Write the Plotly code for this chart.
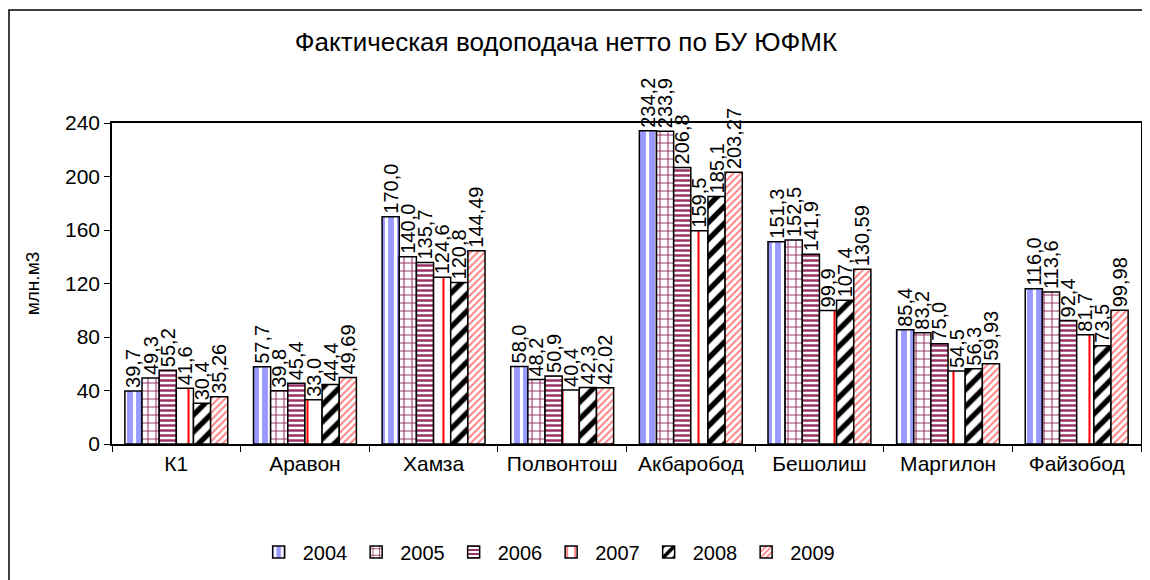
import plotly.graph_objects as go

categories = ["К1", "Аравон", "Хамза", "Полвонтош", "Акбаробод", "Бешолиш", "Маргилон", "Файзобод"]
years = ["2004", "2005", "2006", "2007", "2008", "2009"]

v2004 = [39.7, 57.7, 170.0, 58.0, 234.2, 151.3, 85.4, 116.0]
v2005 = [49.3, 39.8, 140.0, 48.2, 233.9, 152.5, 83.2, 113.6]
v2006 = [55.2, 45.4, 135.7, 50.9, 206.8, 141.9, 75.0, 92.4]
v2007 = [41.6, 33.0, 124.6, 40.4, 159.5, 99.9, 54.5, 81.7]
v2008 = [30.4, 44.4, 120.8, 42.3, 185.1, 107.4, 56.3, 73.5]
v2009 = [35.26, 49.69, 144.49, 42.02, 203.27, 130.59, 59.93, 99.98]

series = [v2004, v2005, v2006, v2007, v2008, v2009]
decimals = [1, 1, 1, 1, 1, 2]

patterns = [
    dict(shape="|", fgcolor="#FFFFFF", bgcolor="#9999FF", size=9, solidity=0.35),
    dict(shape="+", fgcolor="#993366", bgcolor="#FFFFFF", size=8, solidity=0.25),
    dict(shape="-", fgcolor="#993366", bgcolor="#FFFFFF", size=5, solidity=0.5),
    dict(shape="|", fgcolor="#FF0000", bgcolor="#FFFFFF", size=17, solidity=0.12),
    dict(shape="/", fgcolor="#000000", bgcolor="#FFFFFF", size=12, solidity=0.45),
    dict(shape="/", fgcolor="#FF8080", bgcolor="#FFFFFF", size=5, solidity=0.4),
]

FONT = "Liberation Sans, Arial, sans-serif"

# page body has an 8px margin; plot area target: x 112..1143, y 123..444
W, H = 1142, 572
L, T, R, B = 104, 115, 7, 136
PW, PH = W - L - R, H - T - B

fig = go.Figure()
for name, vals, dec, pat in zip(years, series, decimals, patterns):
    labels = [f"{v:.{dec}f}".replace(".", ",") for v in vals]
    fig.add_trace(go.Bar(
        name=name, x=categories, y=vals,
        text=labels, textposition="outside", textangle=-90,
        textfont=dict(family=FONT, size=20, color="black"),
        constraintext="none", cliponaxis=False,
        marker=dict(pattern=dict(fillmode="replace", **pat),
                    line=dict(color="black", width=1.5)),
    ))

fig.update_layout(
    width=W, height=H,
    margin=dict(l=L, r=R, t=T, b=B),
    paper_bgcolor="white", plot_bgcolor="white",
    font=dict(family=FONT, size=20, color="black"),
    barmode="group", bargap=0.2, bargroupgap=0,
    title=dict(text="Фактическая водоподача нетто по БУ ЮФМК",
               x=(566 - 8) / W, xanchor="center", y=1 - 34 / H, yanchor="middle",
               font=dict(size=26)),
    showlegend=True,
    legend=dict(orientation="h", x=(548 - 112) / PW, xanchor="center",
                y=-(552 - 444) / PH, yanchor="middle",
                font=dict(size=20), itemwidth=38, tracegroupgap=0),
    xaxis=dict(showline=True, linecolor="black", linewidth=1.5, mirror=True,
               ticks="outside", tickson="boundaries", ticklen=6, tickcolor="black",
               tickfont=dict(size=21), showgrid=False),
    yaxis=dict(range=[0, 240], tickvals=[0, 40, 80, 120, 160, 200, 240],
               showline=True, linecolor="black", linewidth=1.5, mirror=True,
               ticks="outside", ticklen=6, tickcolor="black",
               tickfont=dict(size=21), showgrid=False, zeroline=False,
               title=dict(text="млн.м3", font=dict(size=19), standoff=20)),
    shapes=[dict(type="rect", xref="paper", yref="paper",
                 x0=(8.8 - 112) / PW, x1=1.06, y0=-0.6, y1=1 + (123 - 10) / PH,
                 line=dict(color="black", width=1.5), fillcolor="rgba(0,0,0,0)", layer="below")],
)

fig.write_html("out.html")
